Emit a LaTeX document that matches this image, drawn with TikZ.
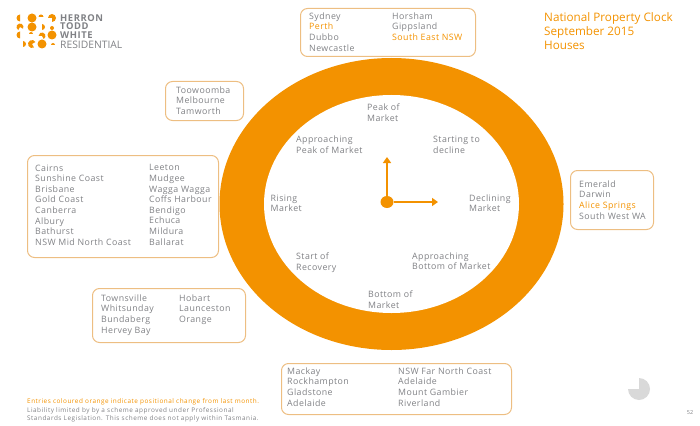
\documentclass[tikz,border=0pt]{standalone}
\usepackage{xcolor}
\usepackage{fontspec}
\setmainfont{Open Sans}
\usetikzlibrary{arrows.meta,shapes.geometric,positioning}
\definecolor{clockorange}{HTML}{F39200}
\definecolor{listgray}{HTML}{808185}
\definecolor{boxline}{HTML}{EDBE82}
\newcommand{\orng}[1]{\textcolor{clockorange}{#1}}
\tikzset{
    listbox/.style={draw=boxline, line width=1pt, rounded corners=7pt, anchor=north west, inner sep=0pt},
    listtext/.style={text=listgray, anchor=north west, align=left, inner sep=0pt,
        font=\addfontfeatures{LetterSpace=5}\fontsize{8.8}{10.6}\selectfont},
    phase/.style={listtext},
    clockhand/.style={draw=clockorange, line width=2pt, -{Triangle[length=6pt,width=8pt]}}
}

\begin{document}
\begin{tikzpicture}[x=1pt,y=-1pt]
    \useasboundingbox (0,0) rectangle (700,425);

    % Draw the ring.
    \fill[clockorange] (391.5,204) ellipse [x radius=172, y radius=146];
    \fill[white] (391.5,204) ellipse [x radius=127.5, y radius=109];

    % Draw the hands.
    \node[ellipse, fill=clockorange, minimum width=13pt, minimum height=12pt, inner sep=0pt] (hub) at (387,202) {};
    \coordinate (hourtip) at (387,157);
    \coordinate (minutetip) at (438,202);
    \draw[clockhand] (hub) -- (hourtip);
    \draw[clockhand] (hub) -- (minutetip);

    % Draw the phases.
    \node[phase] (peak) at (367,104) {Peak of\\Market};
    \node[phase] (apppeak) at (296,136) {Approaching\\Peak of Market};
    \node[phase] (starting) at (433,136) {Starting to\\decline};
    \node[phase] (rising) at (270.5,194.5) {Rising\\Market};
    \node[phase] (declining) at (469,194.5) {Declining\\Market};
    \node[phase] (recovery) at (296,252.5) {Start of\\Recovery};
    \node[phase] (appbottom) at (412,252.5) {Approaching\\Bottom of Market};
    \node[phase] (bottom) at (368,290.5) {Bottom of\\Market};

    % Draw the boxes.
    \node[listbox, minimum width=175pt, minimum height=48pt] (topbox) at (300,8) {};
    \node[listbox, minimum width=78pt, minimum height=39pt] (toowbox) at (165,81) {};
    \node[listbox, minimum width=191pt, minimum height=102pt] (leftbox) at (27,155) {};
    \node[listbox, minimum width=153pt, minimum height=54pt] (townbox) at (92,288) {};
    \node[listbox, minimum width=83pt, minimum height=59pt] (rightbox) at (570,170) {};
    \node[listbox, minimum width=230pt, minimum height=51pt] (bottombox) at (281,363) {};

    % Draw the lists.
    \node[listtext] (topa) at (309,12.5) {Sydney\\\orng{Perth}\\Dubbo\\Newcastle};
    \node[listtext] (topb) at (392,12.5) {Horsham\\Gippsland\\\orng{South East NSW}};
    \node[listtext] (toow) at (176,86.5) {Toowoomba\\Melbourne\\Tamworth};
    \node[listtext] (lefta) at (35,164.5) {Cairns\\Sunshine Coast\\Brisbane\\Gold Coast\\Canberra\\Albury\\Bathurst\\NSW Mid North Coast};
    \node[listtext] (leftb) at (149,164.5) {Leeton\\Mudgee\\Wagga Wagga\\Coffs Harbour\\Bendigo\\Echuca\\Mildura\\Ballarat};
    \node[listtext] (towna) at (101,294.5) {Townsville\\Whitsunday\\Bundaberg\\Hervey Bay};
    \node[listtext] (townb) at (179,294.5) {Hobart\\Launceston\\Orange};
    \node[listtext] (right) at (579,180.5) {Emerald\\Darwin\\\orng{Alice Springs}\\South West WA};
    \node[listtext] (bottoma) at (287,367.5) {Mackay\\Rockhampton\\Gladstone\\Adelaide};
    \node[listtext] (bottomb) at (398,367.5) {NSW Far North Coast\\Adelaide\\Mount Gambier\\Riverland};

    % Draw the title.
    \node[anchor=north west, align=left, inner sep=0pt, text=clockorange,
        font=\fontsize{11.7}{14}\selectfont] (title) at (544,12) {National Property Clock\\September 2015\\Houses};

    % Draw the logo.
    \foreach \x/\y/\r/\a/\b in {20/18/3.5/90/270, 32/18/4.5/0/360, 41/17/2.5/0/180, 52/18/4/-90/180,
        20/27/3.5/-30/240, 32/27/4.5/0/360, 42/27/3/-90/90, 52/28/2/0/360,
        20/35/3.5/90/270, 31/34/2/0/180, 42/36/3.5/-60/180, 52/35/4.5/0/360,
        23/44/3/-90/90, 32/44/4/30/300, 42/44/4.5/0/360, 53/45/2/0/180}
        \fill[clockorange] (\x,\y) -- +(\a:\r pt) arc [start angle=\a, end angle=\b, radius=\r pt] -- cycle;
    \node[anchor=north west, align=left, inner sep=0pt, text=listgray,
        font=\addfontfeatures{LetterSpace=6}\fontsize{9.4}{8.6}\selectfont\bfseries] (logotext) at (60,14) {HERRON\\TODD\\WHITE};
    \node[anchor=north west, inner sep=0pt, text=listgray,
        font=\fontsize{10.3}{8.7}\selectfont] (logoline) at (60,41) {RESIDENTIAL};

    % Draw the footer.
    \node[anchor=north west, inner sep=0pt, text=clockorange,
        font=\addfontfeatures{LetterSpace=8}\fontsize{6.4}{8}\selectfont] (note) at (27,398) {Entries coloured orange indicate positional change from last month.};
    \node[anchor=north west, align=left, inner sep=0pt, text=listgray,
        font=\addfontfeatures{LetterSpace=8}\fontsize{6.4}{8.2}\selectfont] (liability) at (27,407.5) {Liability limited by by a scheme approved under Professional\\Standards Legislation. This scheme does not apply within Tasmania.};
    \fill[black!15] (639,389) -- (639,378) arc [start angle=90, end angle=-180, radius=11pt] -- cycle;
    \node[text=listgray, inner sep=0pt, font=\fontsize{5.5}{6}\selectfont] (pageno) at (690,412.5) {52};
\end{tikzpicture}
\end{document}
